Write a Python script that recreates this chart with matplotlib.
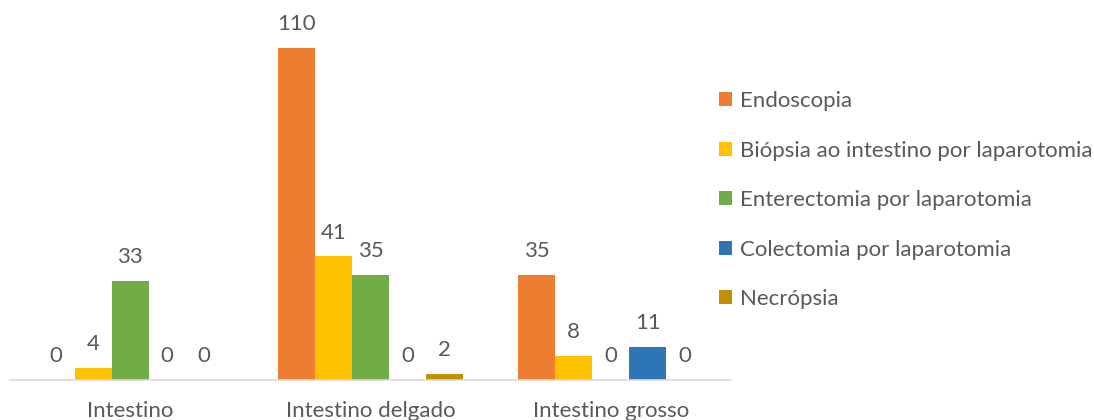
import numpy as np
import matplotlib
matplotlib.use('Agg')
import matplotlib.pyplot as plt

categories = ['Intestino', 'Intestino delgado', 'Intestino grosso']
series_names = ['Endoscopia', 'Biópsia ao intestino por laparotomia',
                'Enterectomia por laparotomia', 'Colectomia por laparotomia',
                'Necrópsia']
endoscopia = [0, 110, 35]
biopsia = [4, 41, 8]
enterectomia = [33, 35, 0]
colectomia = [0, 0, 11]
necropsia = [0, 2, 0]
colors = ['#ED7D31', '#FFC000', '#70AD47', '#2E75B6', '#BF9000']

plt.rcParams['font.family'] = ['Lato', 'DejaVu Sans']
text_color = '#595959'

fig = plt.figure(figsize=(10.94, 4.2), dpi=100)
ax = fig.add_axes([0.0091, 0.095, 0.659, 0.862])

x = np.arange(len(categories))
width = 0.154
all_series = [endoscopia, biopsia, enterectomia, colectomia, necropsia]
for i, (name, vals) in enumerate(zip(series_names, all_series)):
    bars = ax.bar(x + (i - 2) * width, vals, width, color=colors[i], label=name)
    ax.bar_label(bars, padding=10, fontsize=16, color=text_color)

ax.set_xlim(-0.5, 2.5)
ax.set_ylim(0, 120)
ax.set_xticks(x)
ax.set_xticklabels(categories, fontsize=16, color=text_color)
ax.tick_params(axis='x', length=0, pad=15)
ax.set_yticks([])
for s in ['top', 'right', 'left']:
    ax.spines[s].set_visible(False)
ax.spines['bottom'].set_color('#D9D9D9')
ax.spines['bottom'].set_linewidth(1.2)

leg = ax.legend(loc='center left', bbox_to_anchor=(0.983, 0.497), frameon=False,
                fontsize=16, handlelength=0.6, handleheight=0.6,
                handletextpad=0.36, labelspacing=1.33,
                borderaxespad=0, borderpad=0)
for t in leg.get_texts():
    t.set_color(text_color)

fig.savefig('out.png', dpi=100)
